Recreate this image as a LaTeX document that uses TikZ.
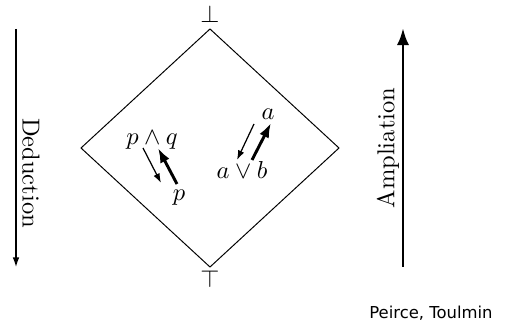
\documentclass[tikz,border=0pt]{standalone}
\usepackage{amsmath}
\usepackage{amssymb}
\usepackage{fontspec}
\newfontfamily\creditfont{DejaVu Sans}
\usepackage{tikz}
\usetikzlibrary{arrows.meta}

\begin{document}
\begin{tikzpicture}[x=0.408pt,y=-0.408pt]
			\tikzstyle{every node}+=[inner sep=0pt]
			\tikzstyle{weak}=[-{Latex[length=3.9pt,width=2.7pt]},line width=0.5pt]
			\tikzstyle{strong}=[-{Latex[length=6pt,width=4.2pt]},line width=1.2pt]
			\useasboundingbox (0,0) rectangle (509,326);
			% the square of opposition, tipped on its corner
			\coordinate (n) at (210,29);
			\coordinate (e) at (339,148);
			\coordinate (s) at (210,267);
			\coordinate (w) at (81,148);
			\draw [black] (n) -- (e) -- (s) -- (w) -- cycle;
			\node (falsum) at (210,14) {$\bot$};
			\node (verum) at (210,279) {$\top$};
			% conjunction
			\node (conj) at (152,140) {$p \wedge q$};
			\node (conjp) at (179,198) {$p$};
			\coordinate (c1) at (143,148);
			\coordinate (c2) at (161,183);
			\coordinate (c3) at (177,184);
			\coordinate (c4) at (158,148);
			\draw [weak] (c1) -- (c2);
			\draw [strong] (c3) -- (c4);
			% disjunction
			\node (disja) at (268,114) {$a$};
			\node (disj) at (242,170) {$a \vee b$};
			\coordinate (d1) at (254,124);
			\coordinate (d2) at (237,160);
			\coordinate (d3) at (252,160);
			\coordinate (d4) at (271,123);
			\draw [weak] (d1) -- (d2);
			\draw [strong] (d3) -- (d4);
			% the two directions
			\coordinate (ded1) at (16,29);
			\coordinate (ded2) at (16,267);
			\draw [weak] (ded1) -- (ded2);
			\node [rotate=-90] (ded) at (31,173) {Deduction};
			\coordinate (amp1) at (403,267);
			\coordinate (amp2) at (403,28);
			\draw [strong,-{Latex[length=7pt,width=5pt]}] (amp1) -- (amp2);
			\node [rotate=90] (amp) at (388,148) {Ampliation};
			\node (credit) at (431,313) {\creditfont\fontsize{6.7}{8}\selectfont Peirce, Toulmin};
		\end{tikzpicture}
\end{document}
